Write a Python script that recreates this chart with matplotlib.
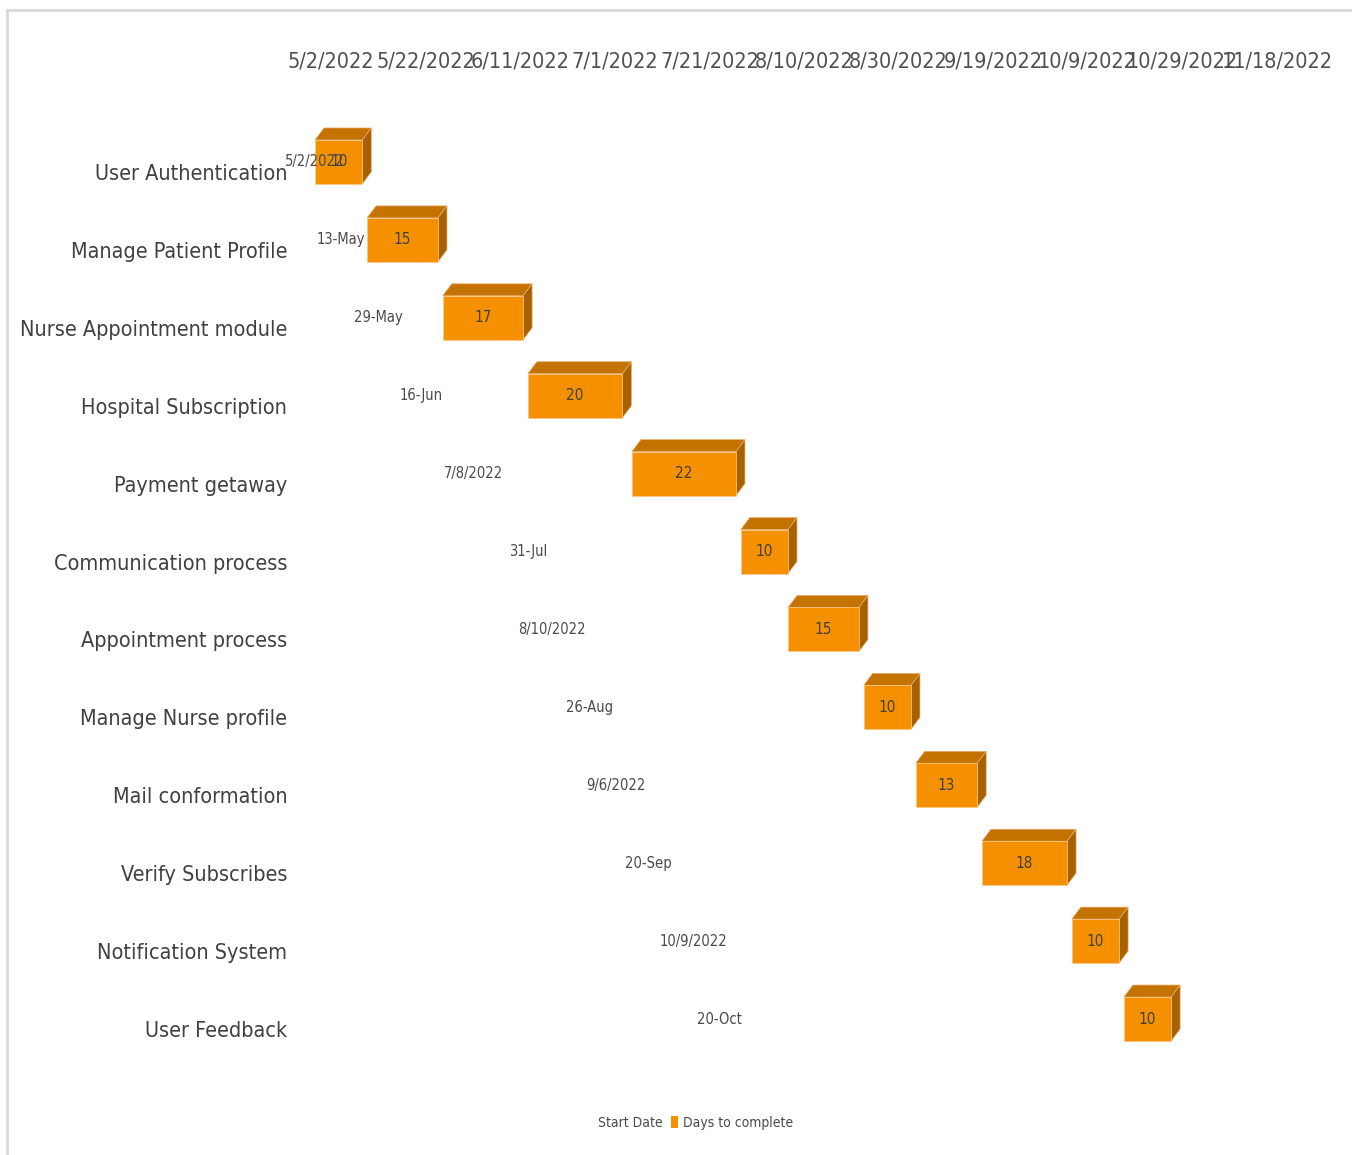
import matplotlib
matplotlib.use("Agg")
import matplotlib.pyplot as plt
import matplotlib.dates as mdates
from matplotlib.patches import Polygon, Patch, Rectangle
from matplotlib.transforms import ScaledTranslation
from datetime import datetime, timedelta

plt.rcParams['font.family'] = ['DejaVu Sans']
plt.rcParams['font.stretch'] = 'condensed'

tasks = ['User Authentication', 'Manage Patient Profile', 'Nurse Appointment module',
         'Hospital Subscription', 'Payment getaway', 'Communication process',
         'Appointment process', 'Manage Nurse profile', 'Mail conformation',
         'Verify Subscribes', 'Notification System', 'User Feedback']
start_dates = ['2022-05-02', '2022-05-13', '2022-05-29', '2022-06-16', '2022-07-08', '2022-07-31',
               '2022-08-10', '2022-08-26', '2022-09-06', '2022-09-20', '2022-10-09', '2022-10-20']
start_labels = ['5/2/2022', '13-May', '29-May', '16-Jun', '7/8/2022', '31-Jul',
                '8/10/2022', '26-Aug', '9/6/2022', '20-Sep', '10/9/2022', '20-Oct']
days = [10, 15, 17, 20, 22, 10, 15, 10, 13, 18, 10, 10]

axis_start = datetime(2022, 5, 2)
axis_end = datetime(2022, 11, 18)
tick_step = 20

front = '#F59100'
top_col = '#C47300'
side_col = '#A86100'
text_col = '#4a4a4a'

W, H, DPI = 1352, 1155, 100
fig = plt.figure(figsize=(W / DPI, H / DPI), dpi=DPI)

# frame of the chart area (runs off the right and bottom edges)
fig.patches.append(Rectangle((7 / W, -0.1), 1.2, 1.1 - 10 / H, transform=fig.transFigure,
                             fill=False, edgecolor='#d9d9d9', linewidth=2))

ax_l, ax_r, ax_t, ax_b = 315, 1261, 123, 1058
ax = fig.add_axes([ax_l / W, 1 - ax_b / H, (ax_r - ax_l) / W, (ax_b - ax_t) / H])

x0 = mdates.date2num(axis_start)
x1 = mdates.date2num(axis_end)
n = len(tasks)
ax.set_xlim(x0, x1)
ax.set_ylim(n - 0.5, -0.5)

# 3D look: depth offset of the bar boxes, in pixels converted to data units
px_per_day = (ax_r - ax_l) / (x1 - x0)
px_per_row = (ax_b - ax_t) / n
dx = 9 / px_per_day
dy = 12 / px_per_row
h = 44 / px_per_row

starts = [mdates.date2num(datetime.strptime(s, '%Y-%m-%d')) for s in start_dates]

for i, (s, d) in enumerate(zip(starts, days)):
    e = s + d
    yt = i - h / 2
    yb = i + h / 2
    ax.add_patch(Polygon([(s, yt), (e, yt), (e + dx, yt - dy), (s + dx, yt - dy)],
                         closed=True, facecolor=top_col, edgecolor='#e8b070', linewidth=0.5))
    ax.add_patch(Polygon([(e, yt), (e, yb), (e + dx, yb - dy), (e + dx, yt - dy)],
                         closed=True, facecolor=side_col, edgecolor='#e8b070', linewidth=0.5))
    ax.barh(i, d, left=s, height=h, color=front, edgecolor='#f8c68a', linewidth=0.5)
    ax.text(s + d / 2, i, str(d), ha='center', va='center', fontsize=11, color='#404040')
    # invisible "Start Date" series: label sits in the middle of its empty bar
    ax.text((x0 + s) / 2, i, start_labels[i], ha='center', va='center', fontsize=10.5,
            color=text_col)

ticks = []
labels = []
t = axis_start
while t <= axis_end:
    ticks.append(mdates.date2num(t))
    labels.append(f"{t.month}/{t.day}/{t.year}")
    t += timedelta(days=tick_step)

ax.xaxis.tick_top()
ax.set_xticks(ticks)
ax.set_xticklabels(labels, fontsize=15.5, color='#505050')
ax.tick_params(axis='x', length=0, pad=37)
for lbl in ax.get_xticklabels():
    lbl.set_transform(lbl.get_transform() + ScaledTranslation(16 / DPI, 0, fig.dpi_scale_trans))

ax.set_yticks(range(n))
ax.set_yticklabels(tasks, fontsize=15.5, color='#404040')
ax.tick_params(axis='y', length=0, pad=20)
for lbl in ax.get_yticklabels():
    lbl.set_transform(lbl.get_transform() + ScaledTranslation(0, -10 / DPI, fig.dpi_scale_trans))

for sp in ax.spines.values():
    sp.set_visible(False)

handles = [Patch(facecolor='none', edgecolor='none'), Patch(facecolor=front, edgecolor='none')]
fig.legend(handles, ['Start Date', 'Days to complete'], loc='center',
           bbox_to_anchor=(690 / W, 1 - 1123 / H), ncol=2, frameon=False, fontsize=10,
           handlelength=0.5, handleheight=0.9, handletextpad=0.3, columnspacing=0.6,
           labelcolor=text_col)

fig.savefig('out.png', dpi=DPI)
